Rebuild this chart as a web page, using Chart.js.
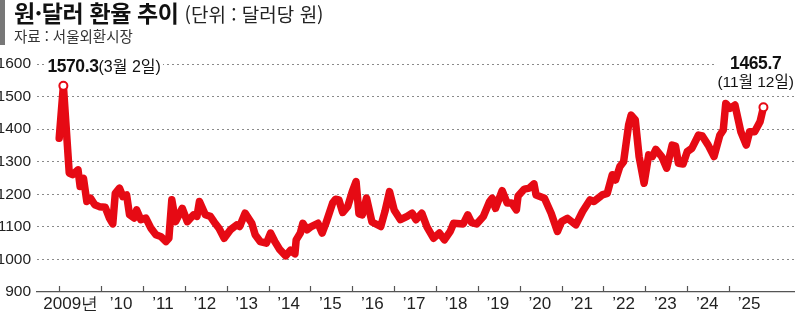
<!DOCTYPE html>
<html lang="ko">
<head>
<meta charset="utf-8">
<script src="https://cdn.jsdelivr.net/npm/chart.js@4.4.1/dist/chart.umd.min.js"></script>
<style>
  html, body { margin: 0; padding: 0; background: #fff; }
  #wrap { position: relative; width: 800px; height: 317px; overflow: hidden; }
  #box { position: absolute; left: 0; top: 0; width: 800px; height: 317px; }
  .bar { position: absolute; left: 0; top: 0; width: 5px; height: 45px; background: #777; }
  .title { position: absolute; left: 14px; top: -1px; font-family: 'Noto Sans CJK KR', sans-serif; font-weight: 700;
           font-size: 23px; line-height: 26px; color: #111; white-space: nowrap; letter-spacing: -0.4px; }
  .title span { font-weight: 400; font-size: 19px; color: #222; letter-spacing: 0; }
  .source { position: absolute; left: 14px; top: 28px; font-family: 'Noto Sans CJK KR', sans-serif; font-size: 14.5px;
            line-height: 16px; color: #333; white-space: nowrap; }
  .note { position: absolute; background: #fff; white-space: nowrap; color: #111; padding: 0 2px;
          font-family: 'Liberation Sans', 'Noto Sans CJK KR', sans-serif; font-size: 16px; line-height: 18px; }
  .note b { font-size: 17.5px; letter-spacing: -0.4px; }
</style>
</head>
<body>
<div id="wrap">
  <div id="box"><canvas id="rateChart"></canvas></div>
  <div class="bar"></div>
  <div class="title">원·달러 환율 추이 <span>(단위 : 달러당 원)</span></div>
  <div class="source">자료 : 서울외환시장</div>
  <div class="note" id="noteHigh"><b>1570.3</b>(3월 2일)</div>
  <div class="note" id="noteLast" style="text-align:center"><b>1465.7</b><br><span style="font-size:15.5px">(11월 12일)</span></div>
</div>
<script>
// time position in decimal years
const years = [
  2009.00, 2009.10, 2009.24, 2009.32, 2009.45, 2009.50, 2009.58, 2009.66, 2009.75, 2009.85, 2009.96,
  2010.10, 2010.20, 2010.28, 2010.34, 2010.44, 2010.52, 2010.61, 2010.68, 2010.79, 2010.85, 2010.95,
  2011.07, 2011.19, 2011.31, 2011.43, 2011.55, 2011.62, 2011.69, 2011.78, 2011.94,
  2012.06, 2012.21, 2012.29, 2012.35, 2012.49, 2012.61, 2012.70, 2012.82, 2012.94,
  2013.09, 2013.24, 2013.31, 2013.44, 2013.60, 2013.68, 2013.80, 2013.95,
  2014.05, 2014.15, 2014.27, 2014.41, 2014.52, 2014.63, 2014.66, 2014.76, 2014.82, 2014.92,
  2015.02, 2015.18, 2015.28, 2015.37, 2015.53, 2015.60, 2015.68, 2015.77, 2015.89,
  2016.00, 2016.09, 2016.16, 2016.24, 2016.34, 2016.47, 2016.68, 2016.78, 2016.89,
  2017.00, 2017.15, 2017.31, 2017.43, 2017.52, 2017.66, 2017.78, 2017.94,
  2018.08, 2018.20, 2018.34, 2018.42, 2018.65, 2018.76, 2018.85, 2018.97,
  2019.13, 2019.28, 2019.34, 2019.42, 2019.58, 2019.70, 2019.81, 2019.92, 2019.96,
  2020.11, 2020.23, 2020.34, 2020.39, 2020.59, 2020.75, 2020.90,
  2021.00, 2021.14, 2021.34, 2021.50, 2021.68, 2021.77, 2021.97,
  2022.09, 2022.21, 2022.29, 2022.39, 2022.48, 2022.60, 2022.66, 2022.76, 2022.85, 2022.97,
  2023.08, 2023.17, 2023.25, 2023.39, 2023.51, 2023.64, 2023.72, 2023.79, 2023.90,
  2024.00, 2024.11, 2024.27, 2024.36, 2024.50, 2024.64, 2024.78, 2024.86, 2024.92,
  2025.02, 2025.14, 2025.28, 2025.41, 2025.49, 2025.61, 2025.74, 2025.82
];
// won per dollar
const rates = [
  1372, 1533, 1265, 1260, 1275, 1224, 1249, 1178, 1188, 1168, 1162,
  1160, 1127, 1109, 1203, 1219, 1193, 1198, 1137, 1127, 1152, 1122,
  1127, 1096, 1076, 1070, 1055, 1065, 1183, 1116, 1157,
  1116, 1137, 1132, 1178, 1137, 1132, 1115, 1095, 1065,
  1091, 1106, 1101, 1142, 1111, 1076, 1055, 1050,
  1081, 1055, 1030, 1011, 1028, 1017, 1060, 1081, 1111, 1091,
  1101, 1111, 1081, 1111, 1173, 1185, 1183, 1144, 1162,
  1208, 1239, 1140, 1137, 1188, 1115, 1101, 1147, 1208,
  1152, 1122, 1132, 1142, 1122, 1142, 1101, 1065,
  1081, 1060, 1086, 1111, 1109, 1137, 1113, 1109,
  1132, 1178, 1188, 1157, 1211, 1173, 1173, 1152, 1195,
  1216, 1219, 1232, 1198, 1188, 1142, 1086,
  1116, 1126, 1106, 1147, 1183, 1178, 1198,
  1203, 1260, 1244, 1285, 1300, 1413, 1443, 1428, 1316, 1234,
  1321, 1316, 1338, 1316, 1280, 1351, 1348, 1295, 1293,
  1331, 1341, 1382, 1379, 1351, 1316, 1382, 1397, 1479,
  1464, 1474, 1392, 1351, 1392, 1392, 1423, 1467
];
const tickYears = [2009, 2010, 2011, 2012, 2013, 2014, 2015, 2016, 2017, 2018, 2019, 2020, 2021, 2022, 2023, 2024, 2025];
const yTicks = [900, 1000, 1100, 1200, 1300, 1400, 1500, 1600];
const highIdx = 1;
const lastIdx = rates.length - 1;

const RED = '#e60a14';
const fontFamily = "'Liberation Sans Narrow', 'Liberation Sans', sans-serif";

// short tick marks pointing up from the x axis
const upTicks = {
  id: 'upTicks',
  afterDraw(chart) {
    const sx = chart.scales.x, ctx = chart.ctx, bottom = chart.chartArea.bottom;
    ctx.save();
    ctx.strokeStyle = '#555';
    ctx.lineWidth = 1.2;
    sx.ticks.forEach(t => {
      const x = Math.round(sx.getPixelForValue(t.value)) + 0.5;
      ctx.beginPath();
      ctx.moveTo(x, bottom);
      ctx.lineTo(x, bottom - 6);
      ctx.stroke();
    });
    ctx.restore();
  }
};

// place the two value notes next to their points
const placeNotes = {
  id: 'placeNotes',
  afterRender(chart) {
    const sx = chart.scales.x, sy = chart.scales.y;
    const hi = document.getElementById('noteHigh');
    const hx = sx.getPixelForValue(years[highIdx]), hy = sy.getPixelForValue(rates[highIdx]);
    hi.style.left = (hx - 18) + 'px';
    hi.style.top = (hy - 29) + 'px';
    const la = document.getElementById('noteLast');
    const lx = sx.getPixelForValue(years[lastIdx]), ly = sy.getPixelForValue(rates[lastIdx]);
    la.style.left = (lx - 8 - la.offsetWidth / 2) + 'px';
    la.style.top = (ly - 53) + 'px';
  }
};

new Chart(document.getElementById('rateChart'), {
  type: 'line',
  data: {
    datasets: [{
      data: years.map((y, i) => ({ x: y, y: rates[i] })),
      borderColor: RED,
      borderWidth: 7.5,
      borderJoinStyle: 'round',
      borderCapStyle: 'round',
      tension: 0,
      pointRadius: rates.map((v, i) => (i === highIdx || i === lastIdx) ? 4 : 0),
      pointBackgroundColor: '#fff',
      pointBorderColor: RED,
      pointBorderWidth: 2,
      clip: false
    }]
  },
  options: {
    responsive: true,
    maintainAspectRatio: false,
    animation: false,
    layout: { padding: { top: 64, right: 0, left: 0, bottom: 0 } },
    plugins: { legend: { display: false }, tooltip: { enabled: false } },
    scales: {
      x: {
        type: 'linear',
        min: 2008.47,
        max: 2026.55,
        afterBuildTicks: s => { s.ticks = tickYears.map(v => ({ value: v })); },
        afterFit: s => { s.height = 25; },
        grid: { display: false, drawTicks: false },
        border: { display: true, color: '#555', width: 1.3 },
        ticks: {
          font: { family: fontFamily, size: 17 },
          color: '#222',
          padding: 2,
          maxRotation: 0,
          autoSkip: false,
          labelOffset: 20,
          // the first label sits a little left of its year centre
          callback: v => v === 2009 ? '2009년\u2002\u2002' : '\u2019' + String(v).slice(2)
        }
      },
      y: {
        min: 900,
        max: 1600,
        afterBuildTicks: s => { s.ticks = yTicks.map(v => ({ value: v })); },
        afterFit: s => { s.width = 37; },
        grid: {
          drawTicks: false,
          color: c => c.tick && c.tick.value === 900 ? 'rgba(0,0,0,0)' : '#8a8a8a',
          lineWidth: 1
        },
        border: { display: false, dash: [2, 3] },
        ticks: { font: { family: fontFamily, size: 15.5 }, color: '#222', padding: 6, callback: v => String(v) }
      }
    }
  },
  plugins: [upTicks, placeNotes]
});
</script>
</body>
</html>
